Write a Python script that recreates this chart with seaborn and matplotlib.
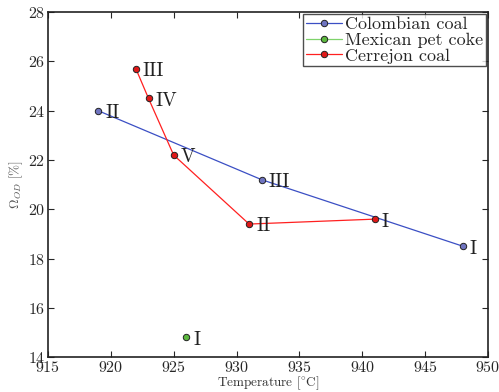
import pandas as pd
import matplotlib
matplotlib.use('Agg')
import matplotlib.pyplot as plt
import seaborn as sns

# Colombian coal
col_temp = [919, 932, 948]
col_omega = [24.0, 21.2, 18.5]
col_tags = ['II', 'III', 'I']

# Mexican pet coke
mex_temp = [926]
mex_omega = [14.8]
mex_tags = ['I']

# Cerrejon coal (drawn in this order)
cer_temp = [922, 923, 925, 931, 941]
cer_omega = [25.7, 24.5, 22.2, 19.4, 19.6]
cer_tags = ['III', 'IV', 'V', 'II', 'I']

sns.set_style('ticks')
plt.rcParams['font.family'] = ['cmr10', 'DejaVu Serif']
plt.rcParams['mathtext.fontset'] = 'cm'
plt.rcParams['axes.formatter.use_mathtext'] = True

fig, ax = plt.subplots(figsize=(4.99, 3.92), dpi=100)

series = [
    ('Colombian coal', col_temp, col_omega, col_tags, '#3b4fc4', '#6f74c0'),
    ('Mexican pet coke', mex_temp, mex_omega, mex_tags, '#7fd36b', '#5cb83e'),
    ('Cerrejon coal', cer_temp, cer_omega, cer_tags, '#ff2020', '#e01818'),
]

for name, t, om, tags, lc, mc in series:
    df = pd.DataFrame({'T': t, 'O': om})
    sns.lineplot(data=df, x='T', y='O', sort=False, ax=ax, color=lc, lw=0.9,
                 marker='o', markersize=4.6, markerfacecolor=mc,
                 markeredgecolor='#222222', markeredgewidth=0.7, label=name)
    for x, y, s in zip(t, om, tags):
        ax.text(x + 0.55, y - 0.1, s, fontsize=14, va='center', ha='left', color='#222222')

ax.set_xlim(915, 950)
ax.set_ylim(14, 28)
ax.set_xticks(range(915, 951, 5))
ax.set_yticks(range(14, 29, 2))
ax.tick_params(direction='in', top=True, right=True, labelsize=11.5, length=4, width=0.8, pad=2)
for sp in ax.spines.values():
    sp.set_linewidth(1.2)
    sp.set_color('#222222')

ax.set_xlabel('Temperature [$^{\\circ}$C]', fontsize=9.5, labelpad=0, color='#333333')
ax.set_ylabel('$\\Omega_{OD}$ [%]', fontsize=9.5, labelpad=2, color='#555555')

leg = ax.legend(loc='upper right', fontsize=13, frameon=True, fancybox=False,
                borderpad=0.15, labelspacing=0.0, handlelength=2.0, handletextpad=0.2,
                borderaxespad=0.1)
leg.get_frame().set_edgecolor('#222222')
leg.get_frame().set_linewidth(1.0)

fig.subplots_adjust(left=0.096, right=0.978, top=0.969, bottom=0.089)
fig.savefig('out.png', dpi=100)
